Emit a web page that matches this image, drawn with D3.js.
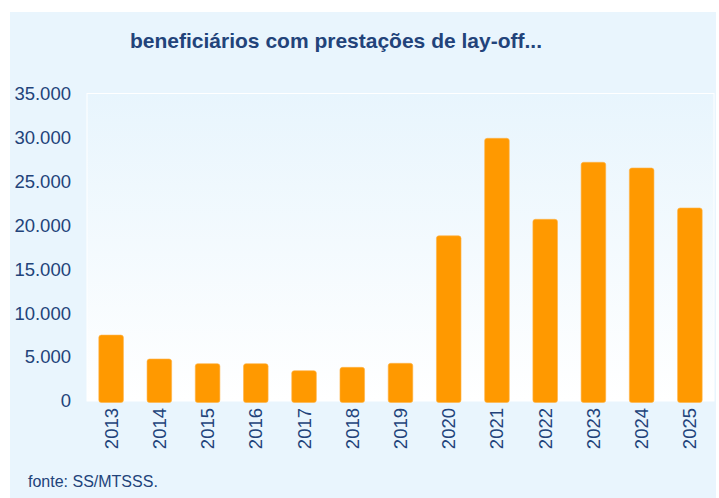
<!DOCTYPE html>
<html lang="pt">
<head>
<meta charset="UTF-8">
<title>beneficiários com prestações de lay-off</title>
<script src="https://d3js.org/d3.v7.min.js"></script>
<style>
  body { margin: 0; background: #fff; }
  svg { display: block; font-family: "Liberation Sans", Arial, sans-serif; }
</style>
</head>
<body>
<div id="chart"></div>
<script>
  const years = ['2013', '2014', '2015', '2016', '2017', '2018', '2019', '2020', '2021', '2022', '2023', '2024', '2025']
  const beneficiarios = [7500, 4780, 4250, 4250, 3450, 3830, 4290, 18800, 29900, 20680, 27170, 26520, 21970]
  const yTicks = [0, 5000, 10000, 15000, 20000, 25000, 30000, 35000]

  const width = 719
  const height = 498
  const plot = { left: 87, right: 714, top: 93.5, bottom: 401 }
  const textColor = '#22437a'

  const svg = d3.select('#chart').append('svg')
    .attr('width', width)
    .attr('height', height)

  const defs = svg.append('defs')
  const grad = defs.append('linearGradient')
    .attr('id', 'plotbg')
    .attr('x1', 0).attr('y1', 0).attr('x2', 0).attr('y2', 1)
  grad.append('stop').attr('offset', '0%').attr('stop-color', '#e8f5fd')
  grad.append('stop').attr('offset', '100%').attr('stop-color', '#ffffff')

  // outer panel
  svg.append('rect')
    .attr('x', 10).attr('y', 12)
    .attr('width', 706).attr('height', height - 12)
    .attr('fill', '#e9f5fd')

  // plot area
  svg.append('rect')
    .attr('x', plot.left).attr('y', plot.top)
    .attr('width', plot.right - plot.left).attr('height', plot.bottom - plot.top)
    .attr('fill', 'url(#plotbg)')
    .attr('stroke', '#ffffff')
    .attr('stroke-width', 1)

  svg.append('text')
    .attr('x', 130).attr('y', 48)
    .attr('font-size', 21)
    .attr('font-weight', 'bold')
    .attr('fill', textColor)
    .text('beneficiários com prestações de lay-off...')

  const x = d3.scaleBand()
    .domain(years)
    .range([plot.left, plot.right])
    .paddingInner(0.49)
    .paddingOuter(0.245)

  const y = d3.scaleLinear()
    .domain([0, 35000])
    .range([plot.bottom, plot.top])

  const fmt = d3.formatLocale({ decimal: ',', thousands: '.', grouping: [3], currency: ['', '€'] }).format(',.0f')

  const yAxis = svg.append('g')
    .attr('transform', `translate(${plot.left - 16},0)`)
    .call(d3.axisLeft(y).tickValues(yTicks).tickFormat(fmt).tickSize(0).tickPadding(0))
  yAxis.select('.domain').remove()
  yAxis.selectAll('text')
    .attr('font-size', 18.5)
    .attr('font-family', '"Liberation Sans", Arial, sans-serif')
    .attr('fill', textColor)

  svg.selectAll('.bar')
    .data(years)
    .enter()
    .append('rect')
    .attr('class', 'bar')
    .attr('x', d => x(d))
    .attr('y', (d, i) => y(beneficiarios[i]))
    .attr('width', x.bandwidth())
    .attr('height', (d, i) => y(0) - y(beneficiarios[i]) + 1.5)
    .attr('rx', 2.5)
    .attr('fill', '#ff9900')
    .attr('stroke', '#ffb347')
    .attr('stroke-width', 0.6)

  const xAxis = svg.append('g')
    .attr('transform', `translate(0,${plot.bottom})`)
    .call(d3.axisBottom(x).tickSize(0).tickPadding(0))
  xAxis.select('.domain').remove()
  xAxis.selectAll('text')
    .attr('font-size', 18.5)
    .attr('font-family', '"Liberation Sans", Arial, sans-serif')
    .attr('fill', textColor)
    .attr('text-anchor', 'end')
    .attr('dy', '0.35em')
    .attr('transform', 'translate(0,7) rotate(-90)')
    .attr('y', 0)
    .attr('x', 0)

  svg.append('text')
    .attr('x', 28).attr('y', 487)
    .attr('font-size', 16)
    .attr('fill', textColor)
    .text('fonte: SS/MTSSS.')
</script>
</body>
</html>
